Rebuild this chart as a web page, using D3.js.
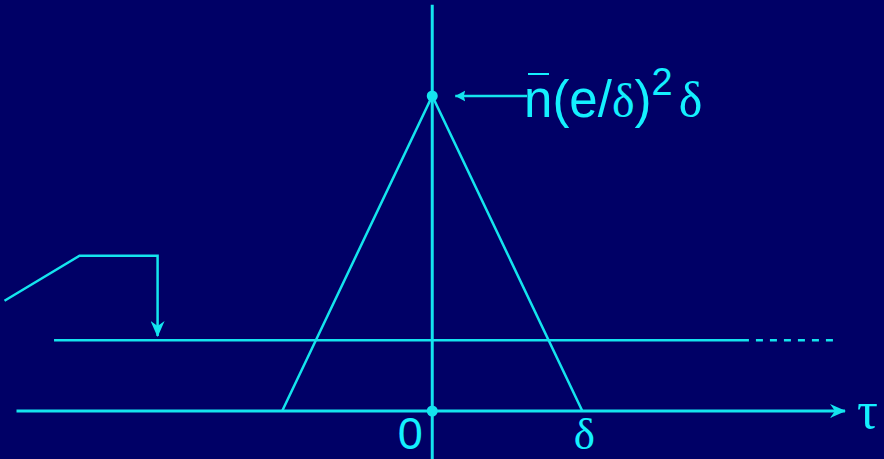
<!DOCTYPE html>
<html>
<head>
<meta charset="utf-8">
<script src="https://cdn.jsdelivr.net/npm/d3@7"></script>
<style>
  html, body { margin: 0; padding: 0; background: #000066; }
  svg { display: block; }
</style>
</head>
<body>
<script>
// Time axis in units of δ; vertical axis in units of the peak value n̄(e/δ)²δ
const tauTicks = [0, 1];
const tauTickLabels = ["0", "δ"];
const triangleTau = [-1, 0, 1];
const triangleValue = [0, 1, 0];
const markedPoints = [[0, 1], [0, 0]];
const baselineLevel = 0.225;
const baselineSolid = [-2.52, 2.11];
const baselineDashed = [2.11, 2.67];
const pointerTau = [-2.85, -2.35, -1.83, -1.83];
const pointerValue = [0.35, 0.493, 0.493, 0.238];
const peakLabel = ["n", "(", "e", "/", "δ", ")", "2", "δ"];

const W = 884, H = 459;
const lineColor = "#14e4ee";
const textColor = "#14f0ff";

const x = d3.scaleLinear().domain([-2.88, 3.01]).range([0, W]);
const y = d3.scaleLinear().domain([0, 1]).range([411, 96]);

const svg = d3.select("body").append("svg")
  .attr("width", W).attr("height", H)
  .style("background", "#000066");

const defs = svg.append("defs");
defs.append("marker")
  .attr("id", "head")
  .attr("viewBox", "0 0 16 14")
  .attr("refX", 15).attr("refY", 7)
  .attr("markerWidth", 16).attr("markerHeight", 14)
  .attr("markerUnits", "userSpaceOnUse")
  .attr("orient", "auto")
  .append("path")
  .attr("d", "M0,0 L16,7 L0,14 L5,7 Z")
  .attr("fill", lineColor);
defs.append("marker")
  .attr("id", "thinHead")
  .attr("viewBox", "0 0 10 12")
  .attr("refX", 10).attr("refY", 6)
  .attr("markerWidth", 10).attr("markerHeight", 12)
  .attr("markerUnits", "userSpaceOnUse")
  .attr("orient", "auto")
  .append("path")
  .attr("d", "M0,0.5 L10,6 L0,11.5 L1.5,6 Z")
  .attr("fill", lineColor);

const line = d3.line().x(d => x(d[0])).y(d => y(d[1]));

// horizontal time axis
svg.append("line")
  .attr("x1", x(-2.77)).attr("x2", x(2.75))
  .attr("y1", y(0)).attr("y2", y(0))
  .attr("stroke", lineColor).attr("stroke-width", 3)
  .attr("marker-end", "url(#head)");

// vertical axis
svg.append("line")
  .attr("x1", x(0)).attr("x2", x(0))
  .attr("y1", y(1.29)).attr("y2", H)
  .attr("stroke", lineColor).attr("stroke-width", 3);

// constant level
svg.append("line")
  .attr("x1", x(baselineSolid[0])).attr("x2", x(baselineSolid[1]))
  .attr("y1", y(baselineLevel)).attr("y2", y(baselineLevel))
  .attr("stroke", lineColor).attr("stroke-width", 2.5);
svg.append("line")
  .attr("x1", x(baselineDashed[0]) + 7).attr("x2", x(baselineDashed[1]))
  .attr("y1", y(baselineLevel)).attr("y2", y(baselineLevel))
  .attr("stroke", lineColor).attr("stroke-width", 2.5)
  .attr("stroke-dasharray", "7,7");

// triangle
svg.append("path")
  .datum(triangleTau.map((t, i) => [t, triangleValue[i]]))
  .attr("d", line)
  .attr("fill", "none")
  .attr("stroke", lineColor).attr("stroke-width", 2.5);

// pointer to the constant level
svg.append("path")
  .datum(pointerTau.map((t, i) => [t, pointerValue[i]]))
  .attr("d", line)
  .attr("fill", "none")
  .attr("stroke", lineColor).attr("stroke-width", 2.5)
  .attr("marker-end", "url(#head)");

// marked points
svg.selectAll("circle.pt").data(markedPoints).join("circle")
  .attr("class", "pt")
  .attr("cx", d => x(d[0])).attr("cy", d => y(d[1]))
  .attr("r", 5.5).attr("fill", lineColor);

// arrow pointing at the peak
svg.append("line")
  .attr("x1", 527).attr("x2", x(0) + 23)
  .attr("y1", y(1)).attr("y2", y(1))
  .attr("stroke", lineColor).attr("stroke-width", 2.5)
  .attr("marker-end", "url(#thinHead)");

// peak label n̄(e/δ)²δ as one text run
const sans = "'Liberation Sans', Arial, sans-serif";
const serif = "'Liberation Serif', 'Times New Roman', serif";
const glyphDx = [0, 0, 0, 0, 0, 0, 0, 6];
const glyphDy = [0, 0, 0, 0, 0, 0, -22, 22];
const glyphFont = [sans, sans, sans, sans, serif, sans, sans, serif];
const glyphSize = [51, 51, 51, 51, 48, 51, 38, 50];
const lab = svg.append("text")
  .attr("x", 524).attr("y", y(1) + 21)
  .attr("fill", textColor);
lab.selectAll("tspan").data(peakLabel).join("tspan")
  .attr("dx", (d, i) => glyphDx[i])
  .attr("dy", (d, i) => glyphDy[i])
  .attr("font-family", (d, i) => glyphFont[i])
  .attr("font-size", (d, i) => glyphSize[i])
  .text(d => d);
// overbar on n
svg.append("line")
  .attr("x1", 528).attr("x2", 549)
  .attr("y1", 74).attr("y2", 74)
  .attr("stroke", textColor).attr("stroke-width", 2);

// tick labels
svg.selectAll("text.tick").data(tauTicks).join("text")
  .attr("class", "tick")
  .attr("x", (d, i) => x(d) + (i === 0 ? -22 : 2))
  .attr("y", H - 10)
  .attr("text-anchor", "middle")
  .attr("fill", textColor)
  .attr("font-family", (d, i) => i === 0 ? sans : serif)
  .attr("font-size", 45)
  .text((d, i) => tauTickLabels[i]);

// axis label τ
svg.append("text")
  .attr("x", 857).attr("y", y(0) + 17)
  .attr("fill", textColor)
  .attr("font-family", serif)
  .attr("font-size", 52)
  .text("τ");
</script>
</body>
</html>
